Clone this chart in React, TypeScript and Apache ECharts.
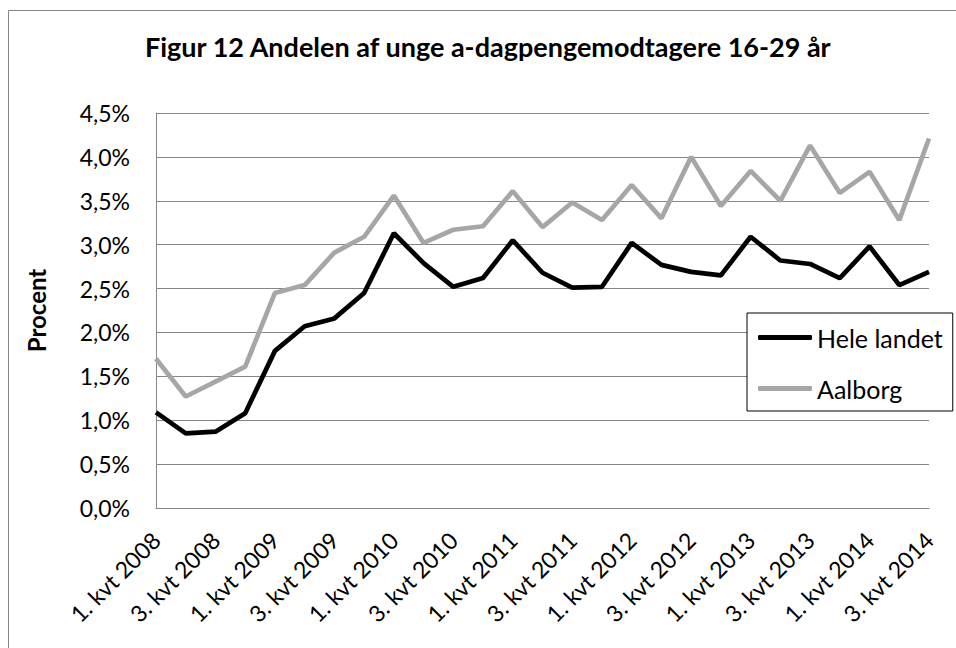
import React, { useEffect, useRef } from "react";
import * as echarts from "echarts";

const TITLE = "Figur 12 Andelen af unge a-dagpengemodtagere 16-29 år";
const Y_NAME = "Procent";

const categories = [
  "1. kvt 2008", "2. kvt 2008", "3. kvt 2008", "4. kvt 2008",
  "1. kvt 2009", "2. kvt 2009", "3. kvt 2009", "4. kvt 2009",
  "1. kvt 2010", "2. kvt 2010", "3. kvt 2010", "4. kvt 2010",
  "1. kvt 2011", "2. kvt 2011", "3. kvt 2011", "4. kvt 2011",
  "1. kvt 2012", "2. kvt 2012", "3. kvt 2012", "4. kvt 2012",
  "1. kvt 2013", "2. kvt 2013", "3. kvt 2013", "4. kvt 2013",
  "1. kvt 2014", "2. kvt 2014", "3. kvt 2014",
];

const heleLandet = [
  1.09, 0.85, 0.87, 1.08, 1.79, 2.07, 2.16, 2.45, 3.13, 2.79, 2.52, 2.62, 3.05,
  2.68, 2.51, 2.52, 3.02, 2.77, 2.69, 2.65, 3.09, 2.82, 2.78, 2.62, 2.98, 2.54, 2.69,
];

const aalborg = [
  1.7, 1.27, 1.44, 1.61, 2.45, 2.54, 2.91, 3.09, 3.56, 3.02, 3.17, 3.21, 3.61,
  3.2, 3.48, 3.28, 3.68, 3.3, 4.0, 3.44, 3.84, 3.5, 4.13, 3.59, 3.83, 3.28, 4.21,
];

const FONT = "Lato, 'Open Sans', sans-serif";

export default function App() {
  const ref = useRef<HTMLDivElement>(null);
  useEffect(() => {
    if (!ref.current) return;
    const chart = echarts.init(ref.current, undefined, { renderer: "svg" });
    chart.setOption({
      animation: false,
      backgroundColor: "#ffffff",
      textStyle: { fontFamily: FONT },
      graphic: [
        {
          type: "rect",
          shape: { x: 8.5, y: 10.5, width: 1000, height: 800 },
          style: { fill: "none", stroke: "#868686", lineWidth: 1 },
          silent: true,
        },
      ],
      title: {
        text: TITLE,
        left: 140,
        top: 28,
        textStyle: { fontFamily: FONT, fontSize: 27, fontWeight: "bold", color: "#000" },
      },
      legend: {
        orient: "vertical",
        left: 747,
        top: 313,
        padding: [12, 10, 10, 11],
        itemGap: 26,
        itemWidth: 54,
        itemHeight: 5,
        icon: "roundRect",
        borderColor: "#000",
        borderWidth: 1,
        backgroundColor: "#fff",
        textStyle: { fontFamily: FONT, fontSize: 25, color: "#000", lineHeight: 24 },
        data: ["Hele landet", "Aalborg"],
      },
      grid: { left: 156, right: 27, top: 113, bottom: 140, containLabel: false },
      xAxis: {
        type: "category",
        data: categories,
        boundaryGap: false,
        axisLine: { lineStyle: { color: "#868686", width: 1 } },
        axisTick: { show: false },
        axisLabel: {
          interval: 1,
          rotate: 45,
          margin: 28,
          fontFamily: FONT,
          fontSize: 23,
          color: "#000",
        },
      },
      yAxis: {
        type: "value",
        min: 0,
        max: 4.5,
        interval: 0.5,
        name: Y_NAME,
        nameLocation: "middle",
        nameRotate: 90,
        nameGap: 108,
        nameTextStyle: { fontFamily: FONT, fontSize: 24, fontWeight: "bold", color: "#000" },
        axisLine: { show: true, lineStyle: { color: "#868686", width: 1 } },
        axisTick: { show: false },
        splitLine: { lineStyle: { color: "#868686", width: 1 } },
        axisLabel: {
          margin: 26,
          fontFamily: FONT,
          fontSize: 23,
          color: "#000",
          formatter: (v: number) => v.toFixed(1).replace(".", ",") + "%",
        },
      },
      series: [
        {
          name: "Hele landet",
          type: "line",
          data: heleLandet,
          symbol: "none",
          lineStyle: { color: "#000000", width: 4.7 },
          itemStyle: { color: "#000000" },
        },
        {
          name: "Aalborg",
          type: "line",
          data: aalborg,
          symbol: "none",
          lineStyle: { color: "#a6a6a6", width: 4.7 },
          itemStyle: { color: "#a6a6a6" },
        },
      ],
    });
    return () => chart.dispose();
  }, []);
  return (
    <div
      ref={ref}
      style={{ position: "fixed", left: 0, top: 0, width: 956, height: 648 }}
    />
  );
}
